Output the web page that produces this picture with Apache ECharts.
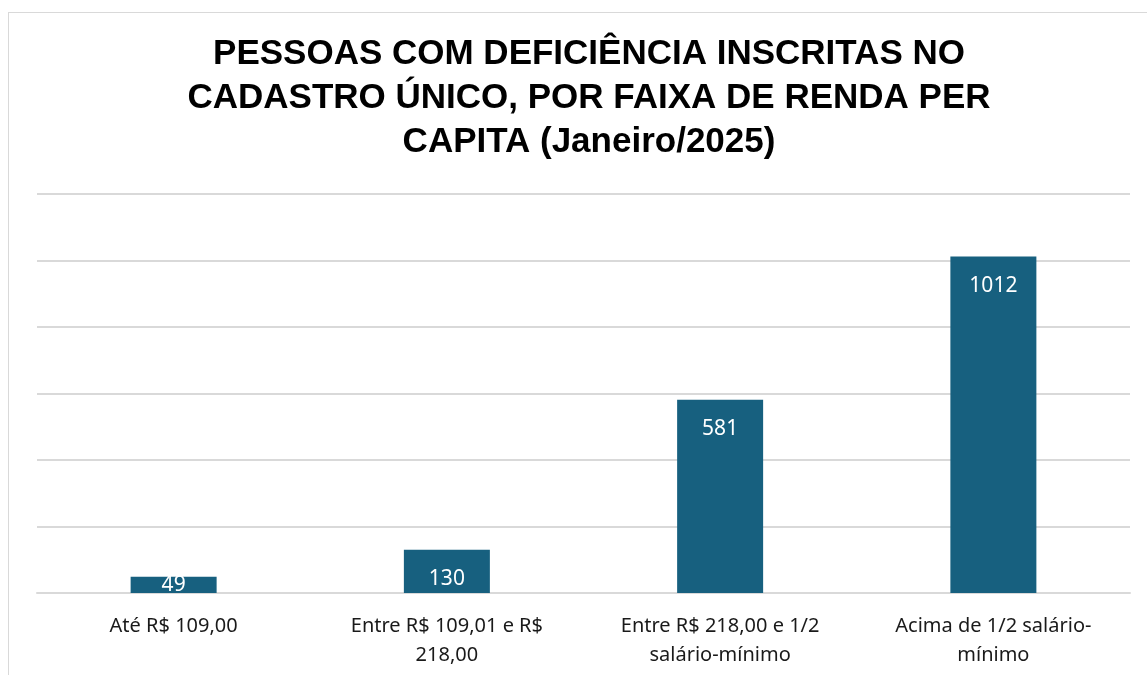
<!DOCTYPE html>
<html>
<head>
<meta charset="utf-8">
<script src="https://cdn.jsdelivr.net/npm/echarts@6/dist/echarts.min.js"></script>
<style>
  html, body { margin: 0; padding: 0; background: #fff; }
  #frame { position: absolute; left: 8px; top: 12px; width: 1200px; height: 700px; border: 1px solid #d9d9d9; }
  #chart { position: absolute; left: 0; top: 0; width: 1147px; height: 675px; }
</style>
</head>
<body>
<div id="frame"></div>
<div id="chart"></div>
<script>
// faixas de renda (rótulos do eixo, com quebras como no original)
const categories = [
  'Até R$ 109,00',
  'Entre R$ 109,01 e R$\n218,00',
  'Entre R$ 218,00 e 1/2\nsalário-mínimo',
  'Acima de 1/2 salário-\nmínimo'
];
const pessoas = [49, 130, 581, 1012];
const yTicks = [0, 200, 400, 600, 800, 1000, 1200];

const chart = echarts.init(document.getElementById('chart'));

chart.setOption({
  animation: false,
  title: {
    text: 'PESSOAS COM DEFICIÊNCIA INSCRITAS NO\nCADASTRO ÚNICO, POR FAIXA DE RENDA PER\nCAPITA (Janeiro/2025)',
    left: 584,
    textAlign: 'center',
    top: 27,
    textStyle: {
      fontFamily: 'Liberation Sans, Arial, sans-serif',
      fontSize: 35,
      fontWeight: 'bold',
      color: '#000',
      lineHeight: 44
    }
  },
  grid: { left: 37, right: 17, top: 194, bottom: 82 },
  xAxis: {
    type: 'category',
    data: categories,
    axisLine: { lineStyle: { color: '#d9d9d9', width: 2 } },
    axisTick: { show: false },
    axisLabel: {
      interval: 0,
      margin: 19,
      fontFamily: 'Noto Sans, sans-serif',
      fontSize: 20,
      lineHeight: 29,
      color: '#1a1a1a'
    }
  },
  yAxis: {
    type: 'value',
    min: yTicks[0],
    max: yTicks[yTicks.length - 1],
    interval: yTicks[1] - yTicks[0],
    axisLabel: { show: false },
    splitLine: { lineStyle: { color: '#d9d9d9', width: 2 } }
  },
  series: [{
    type: 'bar',
    barWidth: 86,
    data: pessoas.map((v, i) => i === 0
      ? { value: v, label: { position: 'inside' } }
      : v),
    itemStyle: { color: '#17607f' },
    label: {
      show: true,
      position: 'insideTop',
      distance: 19,
      color: '#fff',
      fontFamily: 'Noto Sans, sans-serif',
      fontSize: 21
    }
  }]
});
</script>
</body>
</html>
